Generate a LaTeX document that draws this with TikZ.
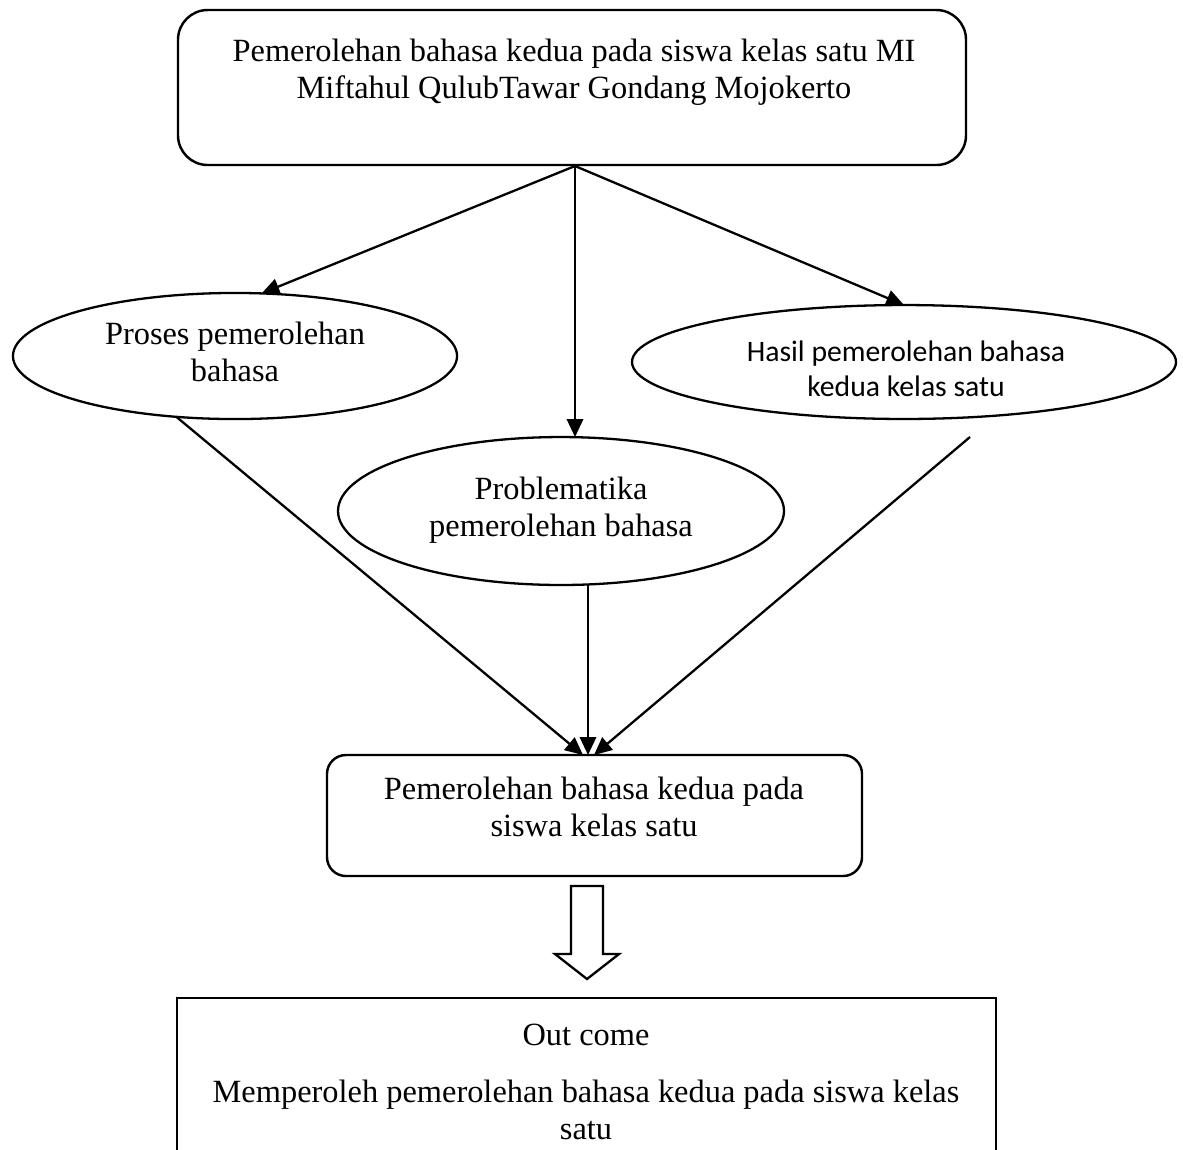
\documentclass[tikz,border=0pt]{standalone}
\usepackage{fontspec}
\setmainfont{Liberation Serif}
\newfontfamily\calibrifont{Carlito}
\usetikzlibrary{shapes.geometric,fit,arrows.meta,calc}

\begin{document}
\begin{tikzpicture}[x=0.3704pt,y=-0.3704pt,
  every node/.style={inner sep=0pt, outer sep=0pt},
  roundbox/.style={draw, line width=0.9pt, rounded corners=#1},
  plainbox/.style={draw, line width=0.9pt},
  boxtext/.style={font=\fontsize{12}{13.7}\selectfont, align=center},
  sanstext/.style={font=\calibrifont\fontsize{11}{13}\selectfont, align=center},
  oval/.style={draw, ellipse, line width=0.85pt, inner sep=0pt, align=center,
               font=\fontsize{12}{13.7}\selectfont},
  arr/.style={line width=0.85pt, -{Triangle[length=6.6pt,width=6pt]}},
  blockarrow/.style={draw, line width=0.85pt, fill=white, line join=miter}
]
\useasboundingbox (0,0) rectangle (1183,1149);

% top box
\node[roundbox=11pt, fit={(178,10)(966,165)}] (top) {};
\node[boxtext] (toptext) at (574,73)
  {\strut Pemerolehan bahasa kedua pada siswa kelas satu MI\\
   \strut Miftahul QulubTawar Gondang Mojokerto};

% ellipses
\node[oval, minimum width=164.5pt, minimum height=46.7pt] (proses) at (235,356)
  {\strut Proses pemerolehan\\ \strut bahasa};
\node[oval, minimum width=165.2pt, minimum height=54.8pt] (prob) at (561,511)
  {\strut Problematika\\ \strut pemerolehan bahasa};
\node[oval, minimum width=201.5pt, minimum height=42.2pt] (hasil) at (904,362) {};
\node[sanstext] (hasiltext) at (906,372)
  {\strut Hasil pemerolehan bahasa\\ \strut kedua kelas satu};

% middle box
\node[roundbox=7pt, fit={(327,755)(862,876)}] (mid) {};
\node[boxtext] (midtext) at (594,811)
  {\strut Pemerolehan bahasa kedua pada\\ \strut siswa kelas satu};

% bottom box
\node[plainbox, fit={(177,998)(996,1175)}] (out) {};
\node[boxtext, anchor=base] (outtitle) at (586,1045) {Out come};
\node[boxtext] (outtext) at (586,1114)
  {\strut Memperoleh pemerolehan bahasa kedua pada siswa kelas\\ \strut satu};

% connectors from top box
\coordinate (hub) at (575,166);
\draw[arr] (hub) -- (proses.67);
\draw[arr] (hub) -- (hub |- prob.north);
\draw[arr] (hub) -- (hasil.north);

% connectors into middle box
\coordinate (meet) at (588,755);
\coordinate (rstart) at (970,437);
\draw[arr] (proses.226) -- ($(meet)+(-5,0)$);
\draw[arr] (meet |- prob.south) -- (meet);
\draw[arr] (rstart) -- ($(meet)+(6,0)$);

% block arrow between middle box and outcome box
\draw[blockarrow] (571,886) -- (603,886) -- (603,954) -- (619,954) -- (587,979)
  -- (555,954) -- (571,954) -- cycle;
\end{tikzpicture}
\end{document}
